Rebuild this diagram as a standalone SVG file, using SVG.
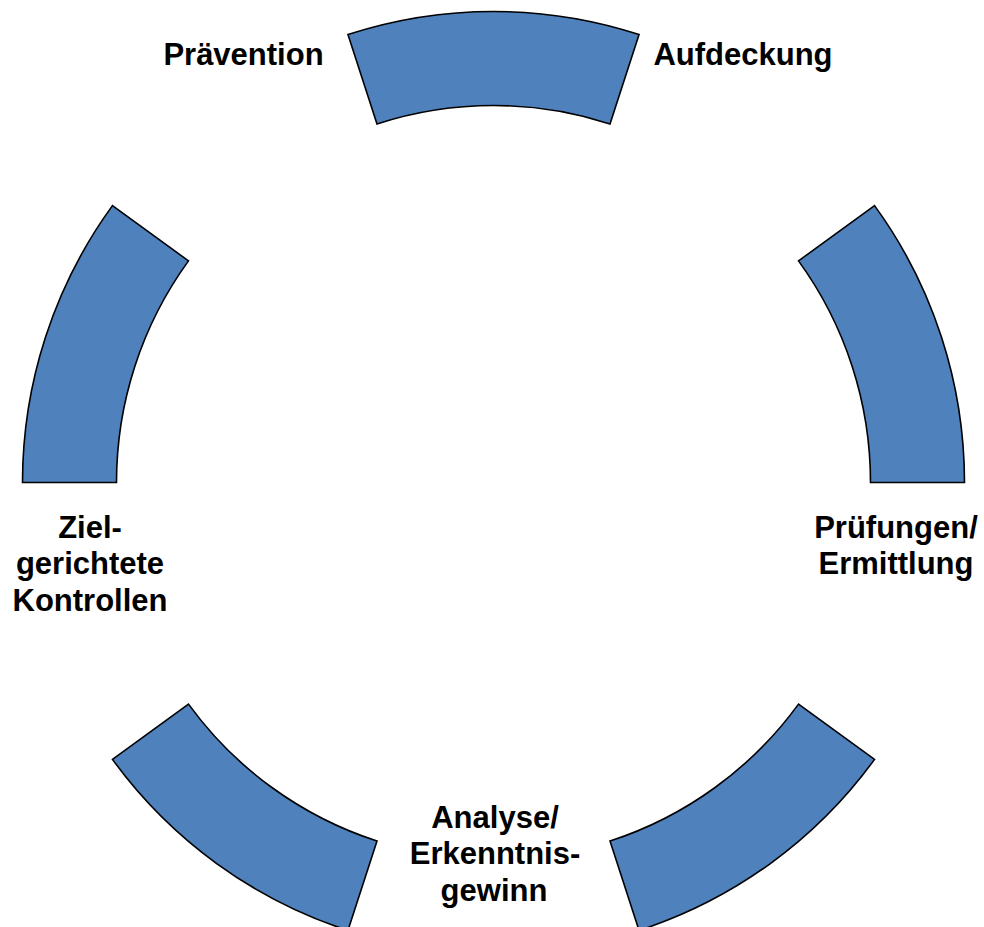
<svg xmlns="http://www.w3.org/2000/svg" width="984" height="927" viewBox="0 0 984 927">
<style>
.seg{fill:#4F81BD;stroke:#000;stroke-width:1.6;stroke-linejoin:miter}
.lbl{font-family:"Liberation Sans",Arial,sans-serif;font-weight:bold;font-size:31px;fill:#000;text-anchor:middle}
</style>
<rect width="984" height="927" fill="#fff"/>
<g id="segments">
<g id="seg-top"><path class="seg" d="M347.95,34.55 A471,471 0 0 1 639.05,34.55 L610,123.95 A377,377 0 0 0 377,123.95 Z"/></g>
<g id="seg-right"><path class="seg" d="M874.55,205.65 A471,471 0 0 1 964.5,482.5 L870.5,482.5 A377,377 0 0 0 798.5,260.9 Z"/></g>
<g id="seg-bottom-right"><path class="seg" d="M874.55,759.35 A471,471 0 0 1 639.05,930.45 L610,841.05 A377,377 0 0 0 798.5,704.1 Z"/></g>
<g id="seg-bottom-left"><path class="seg" d="M347.95,930.45 A471,471 0 0 1 112.45,759.35 L188.5,704.1 A377,377 0 0 0 377,841.05 Z"/></g>
<g id="seg-left"><path class="seg" d="M22.5,482.5 A471,471 0 0 1 112.45,205.65 L188.5,260.9 A377,377 0 0 0 116.5,482.5 Z"/></g>
</g>
<g id="connectors"></g>
<g id="label-praevention"><text class="lbl" x="243.5" y="65">Prävention</text></g>
<g id="label-aufdeckung"><text class="lbl" x="743" y="65">Aufdeckung</text></g>
<g id="label-pruefungen"><text class="lbl" x="896"><tspan x="896" y="538">Prüfungen/</tspan><tspan x="896" y="574">Ermittlung</tspan></text></g>
<g id="label-analyse"><text class="lbl" x="495"><tspan x="495" y="827.5">Analyse/</tspan><tspan x="495" y="864">Erkenntnis-</tspan><tspan x="494" y="900.5">gewinn</tspan></text></g>
<g id="label-kontrollen"><text class="lbl" x="90"><tspan x="90" y="537.5">Ziel-</tspan><tspan x="90" y="574">gerichtete</tspan><tspan x="90" y="610.5">Kontrollen</tspan></text></g>
</svg>
